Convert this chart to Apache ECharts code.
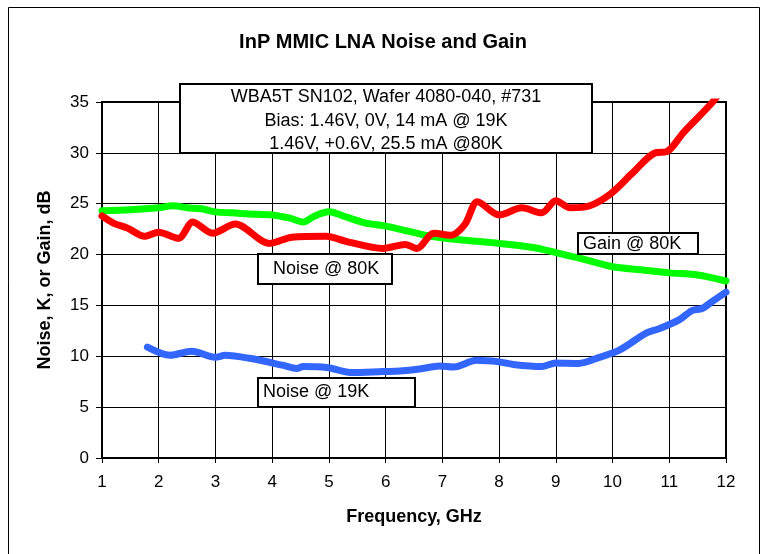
<!DOCTYPE html>
<html>
<head>
<meta charset="utf-8">
<script src="https://cdn.jsdelivr.net/npm/echarts@6/dist/echarts.min.js"></script>
<style>
html,body{margin:0;padding:0;background:#fff;}
#chart{width:766px;height:554px;}
</style>
</head>
<body>
<div id="chart"></div>
<script>
// ---- data ----
var gainX = [1, 1.5, 2, 2.25, 2.5, 2.75, 3, 3.3, 3.6, 4, 4.3, 4.55, 4.75, 5, 5.3, 5.65, 6, 6.4, 6.8, 7.4, 8, 8.6, 9, 9.45, 10, 10.5, 11, 11.5, 12];
var gainY = [24.3, 24.4, 24.6, 24.8, 24.6, 24.5, 24.2, 24.1, 24.0, 23.9, 23.6, 23.2, 23.8, 24.2, 23.7, 23.1, 22.8, 22.3, 21.8, 21.4, 21.1, 20.7, 20.2, 19.6, 18.8, 18.5, 18.2, 18.0, 17.4];

var noise80X = [1, 1.2, 1.45, 1.75, 2, 2.35, 2.6, 2.95, 3.35, 3.95, 4.35, 4.95, 5.3, 5.95, 6.35, 6.55, 6.85, 7.15, 7.4, 7.62, 8.0, 8.4, 8.75, 9.0, 9.25, 9.6, 9.95, 10.35, 10.75, 10.95, 11.25, 11.75, 11.9];
var noise80Y = [23.8, 23.1, 22.6, 21.8, 22.2, 21.6, 23.2, 22.1, 23.0, 21.1, 21.7, 21.8, 21.3, 20.6, 21.0, 20.6, 22.1, 21.9, 23.0, 25.2, 23.9, 24.6, 24.1, 25.3, 24.6, 24.8, 25.9, 28.0, 30.0, 30.1, 32.0, 34.9, 36];

var noise19X = [1.8, 2.2, 2.58, 3.0, 3.17, 3.6, 4.2, 4.43, 4.55, 4.96, 5.42, 5.95, 6.25, 6.6, 6.95, 7.2, 7.6, 8.0, 8.25, 8.75, 9.0, 9.4, 9.77, 10.12, 10.6, 10.82, 11.18, 11.4, 11.58, 11.76, 12.0];
var noise19Y = [10.9, 10.1, 10.5, 9.9, 10.1, 9.8, 9.1, 8.8, 9.0, 8.9, 8.4, 8.5, 8.55, 8.75, 9.05, 8.95, 9.6, 9.45, 9.2, 9.0, 9.35, 9.3, 9.9, 10.6, 12.3, 12.7, 13.6, 14.5, 14.7, 15.4, 16.3];

var titleText = 'InP MMIC LNA Noise and Gain';
var xName = 'Frequency, GHz';
var yName = 'Noise, K, or Gain, dB';
var infoLines = ['WBA5T SN102, Wafer 4080-040, #731', 'Bias: 1.46V, 0V, 14 mA @ 19K', '1.46V, +0.6V, 25.5 mA @80K'];
var labelNoise80 = 'Noise @ 80K';
var labelNoise19 = 'Noise @ 19K';
var labelGain80 = 'Gain @ 80K';

function pairs(xs, ys) { return xs.map(function (x, i) { return [x, ys[i]]; }); }

var FONT = '"Liberation Sans", Arial, sans-serif';
var chart = echarts.init(document.getElementById('chart'), null, {renderer: 'canvas'});

function box(x, y, w, h, textX, textY, text) {
  return {
    type: 'group',
    children: [
      {type: 'rect', shape: {x: x, y: y, width: w, height: h}, style: {fill: '#fff', stroke: '#000', lineWidth: 2}, z: 100},
      {type: 'text', x: textX, y: textY, style: {text: text, font: '18px ' + FONT, fill: '#000', textAlign: 'left', textVerticalAlign: 'middle'}, z: 101}
    ]
  };
}

chart.setOption({
  animation: false,
  backgroundColor: '#fff',
  title: {
    text: titleText,
    left: 'center',
    top: 27,
    textStyle: {fontFamily: FONT, fontSize: 20, fontWeight: 'bold', color: '#000'}
  },
  grid: {left: 102, right: 40, top: 102, bottom: 96, show: true, borderColor: '#000', borderWidth: 2, backgroundColor: 'transparent', containLabel: false, outerBoundsMode: 'none'},
  xAxis: {
    type: 'value', min: 1, max: 12, interval: 1,
    name: xName, nameLocation: 'middle', nameGap: 50,
    nameTextStyle: {fontFamily: FONT, fontSize: 18, fontWeight: 'bold', color: '#000'},
    axisLine: {show: true, onZero: false, lineStyle: {color: '#000', width: 2}},
    axisTick: {show: true, inside: false, length: 5, lineStyle: {color: '#000', width: 1}},
    axisLabel: {fontFamily: FONT, fontSize: 17, color: '#000', margin: 16},
    splitLine: {show: true, lineStyle: {color: '#000', width: 1}}
  },
  yAxis: {
    type: 'value', min: 0, max: 35, interval: 5,
    name: yName, nameLocation: 'middle', nameGap: 48,
    nameTextStyle: {fontFamily: FONT, fontSize: 18, fontWeight: 'bold', color: '#000'},
    axisLine: {show: true, onZero: false, lineStyle: {color: '#000', width: 2}},
    axisTick: {show: true, inside: false, length: 6, lineStyle: {color: '#000', width: 1}},
    axisLabel: {fontFamily: FONT, fontSize: 17, color: '#000', margin: 13},
    splitLine: {show: true, lineStyle: {color: '#000', width: 1}}
  },
  series: [
    {name: 'Gain @ 80K', type: 'line', data: pairs(gainX, gainY), showSymbol: false, smooth: 0.3, clip: true,
     lineStyle: {color: '#00FF00', width: 7, cap: 'round', join: 'round'}, z: 3},
    {name: 'Noise @ 19K', type: 'line', data: pairs(noise19X, noise19Y), showSymbol: false, smooth: 0.3, clip: true,
     lineStyle: {color: '#3366FF', width: 7, cap: 'round', join: 'round'}, z: 3},
    {name: 'Noise @ 80K', type: 'line', data: pairs(noise80X, noise80Y), showSymbol: false, smooth: 0.3, clip: true,
     lineStyle: {color: '#FF0000', width: 7, cap: 'round', join: 'round'}, z: 4}
  ],
  graphic: [
    {type: 'rect', shape: {x: 8.5, y: 7.5, width: 751, height: 600}, style: {fill: null, stroke: '#000', lineWidth: 1}, z: 0, silent: true},
    {
      type: 'group',
      children: [
        {type: 'rect', shape: {x: 180, y: 84, width: 412, height: 69}, style: {fill: '#fff', stroke: '#000', lineWidth: 2}, z: 100},
        {type: 'text', x: 386, y: 97, style: {text: infoLines[0], font: '18px ' + FONT, fill: '#000', textAlign: 'center', textVerticalAlign: 'middle'}, z: 101},
        {type: 'text', x: 386, y: 121, style: {text: infoLines[1], font: '18px ' + FONT, fill: '#000', textAlign: 'center', textVerticalAlign: 'middle'}, z: 101},
        {type: 'text', x: 386, y: 144, style: {text: infoLines[2], font: '18px ' + FONT, fill: '#000', textAlign: 'center', textVerticalAlign: 'middle'}, z: 101}
      ]
    },
    box(258, 254, 134, 30, 273, 269, labelNoise80),
    box(258, 378, 157, 29, 263, 392, labelNoise19),
    box(578, 233, 120, 21, 583, 244, labelGain80)
  ]
});
</script>
</body>
</html>
